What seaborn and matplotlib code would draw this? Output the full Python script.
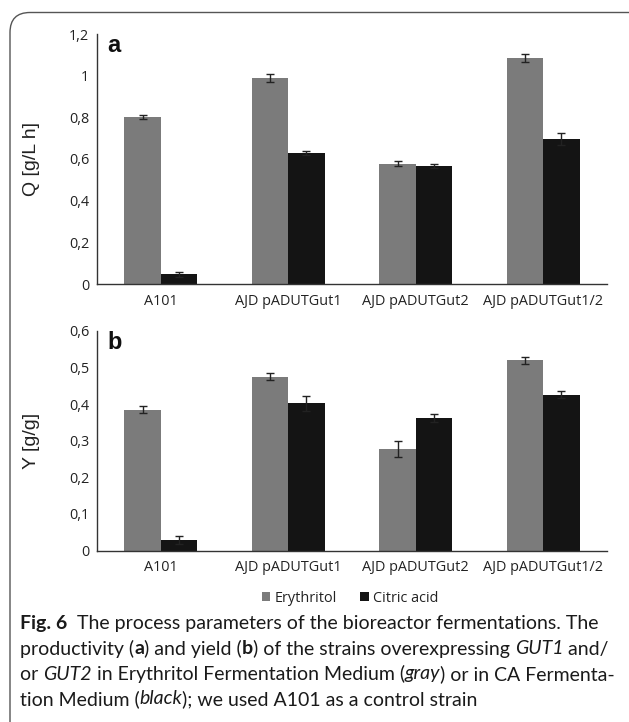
"""Bioreactor fermentation parameters: productivity (a) and yield (b)."""

import matplotlib

matplotlib.use("Agg")
import matplotlib.pyplot as plt
import numpy as np
import pandas as pd
import seaborn as sns
from matplotlib.patches import FancyBboxPatch, Patch
from matplotlib.ticker import FixedLocator, FuncFormatter
from matplotlib.transforms import IdentityTransform

strains = ["A101", "AJD pADUTGut1", "AJD pADUTGut2", "AJD pADUTGut1/2"]
compounds = ["Erythritol", "Citric acid"]

q_erythritol = [0.800, 0.990, 0.578, 1.085]
q_erythritol_err = [0.010, 0.020, 0.012, 0.020]
q_citric = [0.046, 0.630, 0.567, 0.695]
q_citric_err = [0.012, 0.010, 0.010, 0.030]

y_erythritol = [0.385, 0.475, 0.277, 0.520]
y_erythritol_err = [0.010, 0.010, 0.021, 0.010]
y_citric = [0.028, 0.402, 0.362, 0.426]
y_citric_err = [0.011, 0.020, 0.010, 0.010]

colors = {"Erythritol": "#7b7b7b", "Citric acid": "#141414"}

W, H = 629, 722
TICK_FONT = "Open Sans"
LABEL_FONT = "Liberation Sans"
CAPTION_FONT = "Lato"

df = pd.DataFrame({
    "strain": strains * 2,
    "compound": [compounds[0]] * 4 + [compounds[1]] * 4,
    "Q": q_erythritol + q_citric,
    "Q_err": q_erythritol_err + q_citric_err,
    "Y": y_erythritol + y_citric,
    "Y_err": y_erythritol_err + y_citric_err,
})


def comma_fmt(v, _pos):
    s = f"{v:.1f}".rstrip("0").rstrip(".")
    return s.replace(".", ",")


def draw_panel(ax, col, ymax, step, ylabel, letter):
    sns.barplot(data=df, x="strain", y=col, hue="compound", order=strains,
                hue_order=compounds, palette=colors, width=0.57, errorbar=None,
                saturation=1, legend=False, linewidth=0, ax=ax)
    for cont, comp in zip(ax.containers, compounds):
        sub = df[df.compound == comp].set_index("strain").loc[strains]
        xs = [p.get_x() + p.get_width() / 2 for p in cont]
        ax.errorbar(xs, sub[col].values, yerr=sub[col + "_err"].values, fmt="none",
                    ecolor="#222222", elinewidth=1.0, capsize=2.6, capthick=1.0)
    ax.set_xlim(-0.5, len(strains) - 0.5)
    ax.set_ylim(0, ymax)
    ax.yaxis.set_major_locator(FixedLocator(np.arange(0, ymax + step / 2, step)))
    ax.yaxis.set_major_formatter(FuncFormatter(comma_fmt))
    ax.xaxis.set_minor_locator(FixedLocator(np.arange(-0.5, len(strains), 1.0)))
    ax.tick_params(axis="x", which="major", length=0, pad=7)
    ax.tick_params(axis="x", which="minor", length=3.6, width=1, color="#333333")
    ax.tick_params(axis="y", length=3.6, width=1, color="#333333", pad=2)
    for lab in ax.get_xticklabels():
        lab.set_fontfamily(TICK_FONT)
        lab.set_fontsize(10.4)
        lab.set_color("#222222")
    for lab in ax.get_yticklabels():
        lab.set_fontfamily(TICK_FONT)
        lab.set_fontsize(10.4)
        lab.set_color("#222222")
    ax.set_xlabel("")
    ax.set_ylabel(ylabel, fontfamily=LABEL_FONT, fontsize=14, color="#222222")
    ax.yaxis.set_label_coords(-0.112, 0.5)
    for side in ("top", "right"):
        ax.spines[side].set_visible(False)
    for side in ("left", "bottom"):
        ax.spines[side].set_color("#333333")
        ax.spines[side].set_linewidth(1.0)
    ax.text(0.021, 1.0, letter, transform=ax.transAxes, ha="left", va="top",
            fontfamily=LABEL_FONT, fontweight="bold", fontsize=17, color="#111111")


sns.set_style("white")
fig = plt.figure(figsize=(W / 100, H / 100), dpi=100)

ax_a = fig.add_axes([97 / W, 1 - 284 / H, (607 - 97) / W, (284 - 34) / H])
ax_b = fig.add_axes([97 / W, 1 - 550.5 / H, (607 - 97) / W, (550.5 - 331) / H])
draw_panel(ax_a, "Q", 1.2, 0.2, "Q [g/L h]", "a")
draw_panel(ax_b, "Y", 0.6, 0.1, "Y [g/g]", "b")

handles = [Patch(facecolor=colors[c], edgecolor="none", label=c) for c in compounds]
leg = fig.legend(handles=handles, loc="center", bbox_to_anchor=(350 / W, 1 - 598 / H),
                 ncol=2, frameon=False, handlelength=0.6, handleheight=0.6,
                 handletextpad=0.3, columnspacing=1.6,
                 prop={"family": TICK_FONT, "size": 10.4})
for t in leg.get_texts():
    t.set_color("#222222")

# rounded frame around figure + caption, drawn in pixel space
frame = FancyBboxPatch((10, -40), W + 40, H - 12.5 + 40,
                       boxstyle="round,pad=0,rounding_size=20",
                       transform=IdentityTransform(), facecolor="none",
                       edgecolor="#555555", linewidth=1.0, zorder=0)
fig.patches.append(frame)

caption = [
    [("Fig. 6", "bold", "normal"),
     ("  The process parameters of the bioreactor fermentations. The", "normal", "normal")],
    [("productivity (", "normal", "normal"), ("a", "bold", "normal"),
     (") and yield (", "normal", "normal"), ("b", "bold", "normal"),
     (") of the strains overexpressing ", "normal", "normal"),
     ("GUT1", "normal", "italic"), (" and/", "normal", "normal")],
    [("or ", "normal", "normal"), ("GUT2", "normal", "italic"),
     (" in Erythritol Fermentation Medium (", "normal", "normal"),
     ("gray", "normal", "italic"), (") or in CA Fermenta-", "normal", "normal")],
    [("tion Medium (", "normal", "normal"), ("black", "normal", "italic"),
     ("); we used A101 as a control strain", "normal", "normal")],
]
line_y = [624, 649, 674, 699]

renderer = fig.canvas.get_renderer()
for segs, y in zip(caption, line_y):
    x = 20
    for s, weight, style in segs:
        t = fig.text(x / W, 1 - y / H, s, ha="left", va="center",
                     fontfamily=CAPTION_FONT, fontsize=14, fontweight=weight,
                     fontstyle=style, color="#1a1a1a")
        bb = t.get_window_extent(renderer)
        x = bb.x1

fig.savefig("out.png", dpi=100)
plt.close(fig)
